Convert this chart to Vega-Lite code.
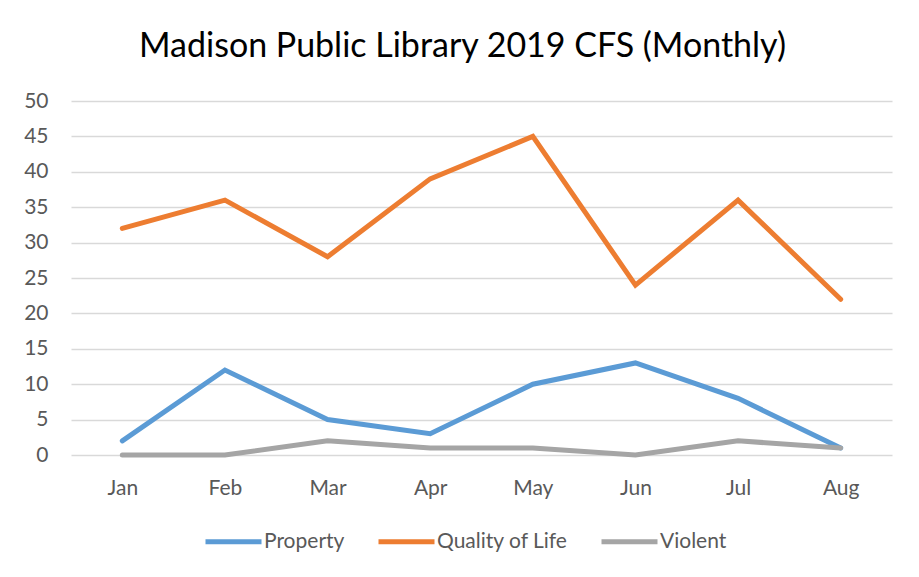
{
  "$schema": "https://vega.github.io/schema/vega-lite/v6.json",
  "autosize": {"type": "none"},
  "width": 821,
  "height": 354,
  "padding": {"left": 71, "top": 101, "right": 27, "bottom": 122},
  "background": "white",
  "title": {
    "text": "Madison Public Library 2019 CFS (Monthly)",
    "font": "Lato",
    "fontSize": 34,
    "fontWeight": "normal",
    "color": "#000000",
    "anchor": "middle",
    "dx": -19,
    "offset": 26
  },
  "data": {
    "values": [
      {"month": "Jan", "type": "Property", "count": 2},
      {"month": "Feb", "type": "Property", "count": 12},
      {"month": "Mar", "type": "Property", "count": 5},
      {"month": "Apr", "type": "Property", "count": 3},
      {"month": "May", "type": "Property", "count": 10},
      {"month": "Jun", "type": "Property", "count": 13},
      {"month": "Jul", "type": "Property", "count": 8},
      {"month": "Aug", "type": "Property", "count": 1},
      {"month": "Jan", "type": "Quality of Life", "count": 32},
      {"month": "Feb", "type": "Quality of Life", "count": 36},
      {"month": "Mar", "type": "Quality of Life", "count": 28},
      {"month": "Apr", "type": "Quality of Life", "count": 39},
      {"month": "May", "type": "Quality of Life", "count": 45},
      {"month": "Jun", "type": "Quality of Life", "count": 24},
      {"month": "Jul", "type": "Quality of Life", "count": 36},
      {"month": "Aug", "type": "Quality of Life", "count": 22},
      {"month": "Jan", "type": "Violent", "count": 0},
      {"month": "Feb", "type": "Violent", "count": 0},
      {"month": "Mar", "type": "Violent", "count": 2},
      {"month": "Apr", "type": "Violent", "count": 1},
      {"month": "May", "type": "Violent", "count": 1},
      {"month": "Jun", "type": "Violent", "count": 0},
      {"month": "Jul", "type": "Violent", "count": 2},
      {"month": "Aug", "type": "Violent", "count": 1}
    ]
  },
  "mark": {"type": "line", "strokeWidth": 5, "strokeCap": "round", "strokeJoin": "miter"},
  "encoding": {
    "x": {
      "field": "month",
      "type": "ordinal",
      "sort": ["Jan", "Feb", "Mar", "Apr", "May", "Jun", "Jul", "Aug"],
      "scale": {"type": "point", "padding": 0.5},
      "axis": {
        "title": null,
        "labelAngle": 0,
        "ticks": false,
        "domain": false,
        "grid": false,
        "labelPadding": 22,
        "labelFont": "Lato",
        "labelFontSize": 21,
        "labelColor": "#595959"
      }
    },
    "y": {
      "field": "count",
      "type": "quantitative",
      "scale": {"domain": [0, 50], "nice": false},
      "axis": {
        "title": null,
        "values": [0, 5, 10, 15, 20, 25, 30, 35, 40, 45, 50],
        "ticks": false,
        "domain": false,
        "grid": true,
        "gridColor": "#D9D9D9",
        "gridWidth": 1.5,
        "labelPadding": 23,
        "labelFont": "Lato",
        "labelFontSize": 21,
        "labelColor": "#595959"
      }
    },
    "color": {
      "field": "type",
      "type": "nominal",
      "scale": {
        "domain": ["Property", "Quality of Life", "Violent"],
        "range": ["#5B9BD5", "#ED7D31", "#A5A5A5"]
      },
      "legend": {
        "title": null,
        "orient": "none",
        "legendX": 132,
        "legendY": 410,
        "direction": "horizontal",
        "symbolType": "stroke",
        "symbolSize": 3136,
        "symbolStrokeWidth": 5,
        "labelOffset": 0,
        "columnPadding": 23,
        "labelFont": "Lato",
        "labelFontSize": 21,
        "labelColor": "#595959"
      }
    }
  },
  "config": {
    "view": {"stroke": null}
  }
}
